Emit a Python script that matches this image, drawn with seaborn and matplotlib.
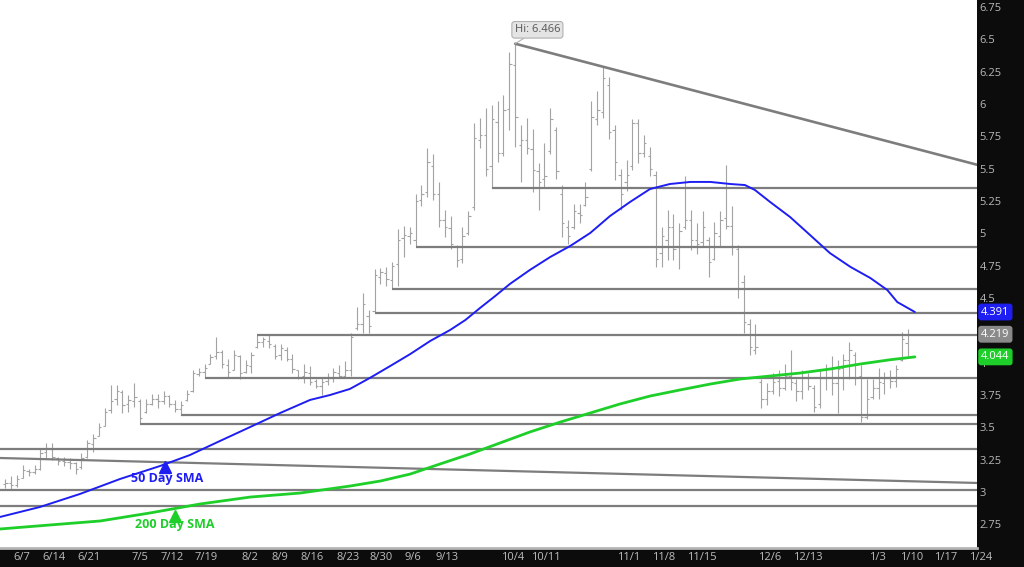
import numpy as np
import matplotlib
matplotlib.use("Agg")
import matplotlib.pyplot as plt
import matplotlib.transforms as mtrans
import seaborn as sns

# --- Data (daily OHLC, one bar per trading day) ---
opens = [3.06, 3.07, 3.05, 3.11, 3.16, 3.15, 3.18, 3.31, 3.33, 3.26,
         3.24, 3.23, 3.22, 3.19, 3.27, 3.37, 3.43, 3.51, 3.63, 3.72,
         3.77, 3.68, 3.70, 3.70, 3.62, 3.68, 3.72, 3.70, 3.74, 3.68,
         3.64, 3.71, 3.78, 3.91, 3.93, 3.99, 4.05, 4.08, 3.98, 3.94,
         4.05, 3.93, 3.97, 4.12, 4.16, 4.17, 4.13, 4.06, 4.10, 4.03,
         3.94, 3.90, 3.92, 3.86, 3.82, 3.86, 3.88, 3.92, 3.90, 3.94,
         4.27, 4.30, 4.36, 4.40, 4.66, 4.69, 4.64, 4.76, 4.96, 4.98,
         4.95, 5.26, 5.32, 5.52, 5.30, 5.10, 5.04, 4.90, 4.80, 5.00,
         5.20, 5.72, 5.76, 5.52, 5.86, 5.62, 5.96, 6.30, 5.68, 5.72,
         5.65, 5.48, 5.42, 5.64, 5.80, 5.30, 5.05, 5.05, 5.16, 5.22,
         5.50, 5.88, 5.94, 6.15, 5.80, 5.45, 5.40, 5.52, 5.85, 5.62,
         5.60, 5.45, 4.85, 4.95, 5.05, 4.90, 5.05, 5.10, 4.95, 4.93,
         4.95, 4.80, 4.98, 5.12, 5.06, 4.88, 4.62, 4.30, 4.10, 3.85,
         3.72, 3.78, 3.86, 3.80, 3.90, 3.84, 3.78, 3.88, 3.80, 3.68,
         3.88, 3.95, 3.84, 3.96, 4.02, 4.06, 3.90, 3.58, 3.73, 3.80,
         3.84, 3.88, 3.86, 4.02, 4.15]
highs = [3.10, 3.12, 3.13, 3.21, 3.18, 3.21, 3.34, 3.38, 3.38, 3.27,
         3.27, 3.26, 3.23, 3.30, 3.40, 3.45, 3.53, 3.65, 3.83, 3.83,
         3.79, 3.75, 3.84, 3.72, 3.72, 3.76, 3.76, 3.78, 3.75, 3.71,
         3.70, 3.79, 3.94, 3.96, 3.99, 4.07, 4.20, 4.10, 4.03, 4.10,
         4.06, 4.02, 4.08, 4.21, 4.20, 4.21, 4.14, 4.14, 4.12, 4.07,
         3.94, 3.99, 3.97, 3.87, 3.88, 3.92, 3.96, 3.98, 4.01, 4.23,
         4.43, 4.54, 4.41, 4.72, 4.73, 4.74, 4.78, 5.03, 5.06, 5.05,
         5.30, 5.37, 5.66, 5.61, 5.40, 5.18, 5.13, 4.91, 5.05, 5.17,
         5.85, 5.89, 5.97, 5.99, 6.02, 6.07, 6.40, 6.466, 5.84, 5.89,
         5.81, 5.54, 5.70, 5.97, 5.82, 5.37, 5.10, 5.23, 5.23, 5.40,
         6.02, 6.10, 6.29, 6.21, 5.84, 5.50, 5.57, 5.88, 5.88, 5.76,
         5.67, 5.48, 5.05, 5.18, 5.15, 5.08, 5.44, 5.18, 5.08, 5.17,
         4.97, 5.09, 5.17, 5.53, 5.21, 4.91, 4.68, 4.34, 4.30, 3.87,
         3.84, 3.92, 3.94, 3.99, 4.10, 3.87, 3.94, 3.92, 3.83, 3.94,
         3.99, 4.05, 4.02, 4.07, 4.16, 4.08, 3.98, 3.87, 3.87, 3.96,
         3.93, 3.94, 3.98, 4.24, 4.26]
lows = [3.03, 3.02, 3.04, 3.11, 3.12, 3.14, 3.17, 3.26, 3.25, 3.21,
        3.20, 3.18, 3.14, 3.18, 3.26, 3.31, 3.43, 3.51, 3.61, 3.67,
        3.61, 3.62, 3.66, 3.525, 3.61, 3.67, 3.65, 3.68, 3.66, 3.62,
        3.595, 3.70, 3.77, 3.90, 3.88, 3.99, 4.03, 3.96, 3.88, 3.94,
        3.87, 3.92, 3.92, 4.11, 4.12, 4.11, 4.03, 4.02, 4.01, 3.92,
        3.87, 3.84, 3.83, 3.80, 3.75, 3.83, 3.85, 3.88, 3.88, 3.90,
        4.25, 4.23, 4.23, 4.383, 4.61, 4.59, 4.57, 4.59, 4.82, 4.92,
        4.894, 5.21, 5.28, 5.26, 5.05, 4.97, 4.88, 4.74, 4.77, 4.99,
        5.18, 5.66, 5.44, 5.35, 5.55, 5.60, 5.80, 5.67, 5.40, 5.61,
        5.32, 5.18, 5.36, 5.61, 5.42, 4.97, 4.92, 5.03, 5.08, 5.21,
        5.48, 5.84, 5.89, 5.73, 5.41, 5.18, 5.33, 5.49, 5.54, 5.59,
        5.44, 4.74, 4.74, 4.79, 4.79, 4.72, 5.03, 4.87, 4.84, 4.90,
        4.66, 4.79, 4.90, 5.03, 4.83, 4.50, 4.23, 4.06, 4.07, 3.65,
        3.67, 3.76, 3.74, 3.79, 3.79, 3.70, 3.72, 3.79, 3.62, 3.65,
        3.79, 3.75, 3.61, 3.79, 3.87, 3.83, 3.54, 3.56, 3.72, 3.72,
        3.76, 3.80, 3.81, 4.01, 4.05]
closes = [3.07, 3.05, 3.10, 3.17, 3.15, 3.18, 3.30, 3.34, 3.27, 3.24,
          3.23, 3.22, 3.18, 3.26, 3.38, 3.42, 3.50, 3.62, 3.70, 3.78,
          3.67, 3.71, 3.73, 3.57, 3.68, 3.72, 3.70, 3.74, 3.68, 3.64,
          3.67, 3.76, 3.92, 3.93, 3.96, 4.04, 4.08, 3.99, 3.93, 4.06,
          3.92, 3.98, 4.06, 4.16, 4.18, 4.14, 4.05, 4.11, 4.03, 3.95,
          3.89, 3.93, 3.85, 3.82, 3.85, 3.88, 3.93, 3.90, 3.94, 4.20,
          4.30, 4.45, 4.28, 4.68, 4.70, 4.65, 4.75, 4.95, 4.99, 5.00,
          5.25, 5.30, 5.55, 5.30, 5.10, 5.05, 4.92, 4.79, 4.98, 5.13,
          5.74, 5.76, 5.50, 5.88, 5.62, 5.95, 6.31, 5.90, 5.72, 5.66,
          5.49, 5.40, 5.44, 5.88, 5.48, 5.08, 4.98, 5.17, 5.14, 5.28,
          5.90, 5.95, 6.20, 5.78, 5.55, 5.30, 5.45, 5.85, 5.62, 5.70,
          5.50, 4.80, 4.98, 5.05, 4.88, 5.02, 5.10, 4.95, 4.92, 5.05,
          4.78, 5.00, 5.10, 5.06, 4.90, 4.58, 4.31, 4.12, 4.12, 3.72,
          3.78, 3.85, 3.80, 3.90, 3.85, 3.78, 3.88, 3.82, 3.66, 3.88,
          3.95, 3.84, 3.95, 4.02, 4.10, 3.88, 3.58, 3.72, 3.80, 3.85,
          3.88, 3.86, 3.95, 4.18, 4.219]

# moving averages at sample bars
sma50_bar = [-0.9, 5.9, 12.75, 19.6, 26.4, 31.5, 36.6, 41.8, 46.9, 52.0, 55.4,
             58.8, 62.2, 65.7, 69.1, 72.5, 75.9, 78.5, 81.0, 83.6, 86.1, 89.5,
             93.0, 96.4, 99.8, 103.2, 106.6, 110.0, 113.4, 116.9, 120.3, 123.7,
             126.2, 127.9, 130.5, 133.9, 137.3, 140.7, 144.2, 147.6, 150.5,
             152.2, 155.2]
sma50_val = [2.806, 2.883, 2.984, 3.100, 3.200, 3.285, 3.393, 3.502, 3.610, 3.711,
             3.749, 3.796, 3.881, 3.974, 4.066, 4.167, 4.252, 4.329, 4.422, 4.515,
             4.608, 4.716, 4.817, 4.902, 5.002, 5.134, 5.242, 5.342, 5.381, 5.397,
             5.397, 5.381, 5.373, 5.335, 5.242, 5.126, 4.987, 4.847, 4.740, 4.654,
             4.561, 4.468, 4.391]
sma200_bar = [-0.9, 7.6, 16.2, 24.7, 33.2, 41.8, 50.3, 58.8, 64.0, 69.1, 74.2,
              79.3, 84.4, 89.5, 94.7, 99.8, 104.9, 110.0, 115.1, 120.3, 125.4,
              130.5, 135.6, 140.7, 145.9, 151.0, 155.2]
sma200_val = [2.713, 2.744, 2.775, 2.837, 2.906, 2.960, 2.991, 3.045, 3.084, 3.138,
              3.216, 3.293, 3.378, 3.463, 3.540, 3.610, 3.680, 3.741, 3.788, 3.834,
              3.873, 3.896, 3.919, 3.950, 3.989, 4.022, 4.044]

# support / resistance levels and the bar where each one begins
levels = [5.35, 4.894, 4.57, 4.383, 4.213, 3.88, 3.595, 3.525, 3.332, 3.015, 2.89]
level_start = [83, 70, 66, 63, 43, 34, 30, 23, -1, -1, -1]

# trend lines (bar, price) pairs
upper_trend_bar = [87, 165.8]
upper_trend_val = [6.466, 5.53]
lower_trend_bar = [-0.9, 165.8]
lower_trend_val = [3.262, 3.069]

date_labels = ["6/7", "6/14", "6/21", "7/5", "7/12", "7/19", "8/2", "8/9", "8/16",
               "8/23", "8/30", "9/6", "9/13", "10/4", "10/11", "11/1", "11/8",
               "11/15", "12/6", "12/13", "1/3", "1/10", "1/17", "1/24"]
date_label_bar = [2.85, 8.3, 14.3, 23.0, 28.45, 34.25, 41.75, 46.9, 52.3, 58.5,
                  64.1, 69.6, 75.4, 86.5, 92.3, 106.4, 112.4, 118.9, 130.5, 137.0,
                  148.9, 154.6, 160.5, 166.5]
# 4.25 sits under the last-close tag, so it is not shown
y_ticks = [2.75, 3, 3.25, 3.5, 3.75, 4, 4.5, 4.75, 5, 5.25, 5.5, 5.75,
           6, 6.25, 6.5, 6.75]

# --- Style ---
BG = "#0c0c0c"
BAR = "#a3a3a3"
LINE = "#7d7d7d"
BLUE = "#1e1ef2"
GREEN = "#1ecf2a"
sns.set_theme(style="white")
plt.rcParams["font.family"] = ["Open Sans", "DejaVu Sans"]

fig = plt.figure(figsize=(10.24, 5.67), dpi=100, facecolor=BG)
ax = fig.add_axes([0, 19 / 567, 977 / 1024, 548 / 567])
ax.set_facecolor("white")
ax.set_xlim(-0.9, 165.8)
ax.set_ylim(2.566, 6.804)

# --- OHLC bars ---
x = np.arange(len(opens))
ax.vlines(x, lows, highs, color=BAR, lw=0.8, zorder=2)
ax.hlines(opens, x - 0.4, x, color=BAR, lw=0.8, zorder=2)
ax.hlines(closes, x, x + 0.4, color=BAR, lw=0.8, zorder=2)

# --- levels and trend lines ---
ax.hlines(levels, level_start, 165.8, color=LINE, lw=1.6, zorder=3)
ax.plot(upper_trend_bar, upper_trend_val, color=LINE, lw=1.9, zorder=3)
ax.plot(lower_trend_bar, lower_trend_val, color=LINE, lw=1.6, zorder=3)

# --- moving averages ---
sns.lineplot(x=sma50_bar, y=sma50_val, color=BLUE, lw=1.4, ax=ax, zorder=4)
sns.lineplot(x=sma200_bar, y=sma200_val, color=GREEN, lw=2.0, ax=ax, zorder=4)

ax.plot(27.3, 3.195, marker="^", color=BLUE, ms=8, zorder=5)
ax.text(27.6, 3.105, "50 Day SMA", color=BLUE, fontsize=9, fontweight="bold",
        ha="center", va="center", zorder=5)
ax.plot(28.9, 2.815, marker="^", color=GREEN, ms=8, zorder=5)
ax.text(28.9, 2.744, "200 Day SMA", color=GREEN, fontsize=9, fontweight="bold",
        ha="center", va="center", zorder=5)

# --- high label ---
hi = max(highs)
hi_bar = highs.index(hi)
ax.annotate(f"Hi: {hi:.3f}", xy=(hi_bar, hi), xytext=(16, 10), textcoords="offset points",
            ha="center", va="center", fontsize=8, color="#555555",
            bbox=dict(boxstyle="round,pad=0.25", fc="#e4e4e4", ec="#b0b0b0", lw=0.8),
            arrowprops=dict(arrowstyle="-", color="#b0b0b0", lw=0.8,
                            shrinkA=0, shrinkB=0), zorder=6)

# --- axes ---
ax.set_xticks([])
ax.yaxis.tick_right()
ax.set_yticks(y_ticks)
ax.set_yticklabels([f"{v:g}" for v in y_ticks])
ax.tick_params(axis="y", length=0, pad=2, labelcolor="#b8b8b8", labelsize=8)
for s in ["top", "left", "right"]:
    ax.spines[s].set_visible(False)
ax.spines["bottom"].set_color("#b5b5b5")
ax.spines["bottom"].set_linewidth(2)

trans = mtrans.blended_transform_factory(ax.transData, fig.transFigure)
for lab, pos in zip(date_labels, date_label_bar):
    ax.text(pos, 1 - 558 / 567, lab, transform=trans, ha="center", va="center",
            color="#bdbdbd", fontsize=8, clip_on=False)

# --- last value tags ---
tags = [(sma50_val[-1], BLUE), (closes[-1], "#8a8a8a"), (sma200_val[-1], GREEN)]
for val, col in tags:
    ax.annotate(f"{val:.3f}", xy=(1.0, val), xycoords=("axes fraction", "data"),
                xytext=(3, 0), textcoords="offset points", ha="left", va="center",
                color="white", fontsize=8,
                bbox=dict(boxstyle="round,pad=0.2", fc=col, ec=col),
                annotation_clip=False, zorder=7)

fig.savefig("out.png", dpi=100, facecolor=BG)
